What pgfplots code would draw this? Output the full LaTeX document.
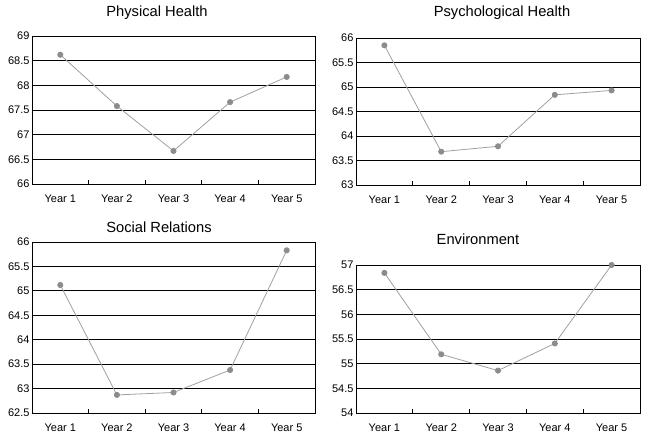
\documentclass[border=0pt]{standalone}
\usepackage{fontspec}
\setmainfont{Liberation Sans}
\usepackage{pgfplots}
\pgfplotsset{compat=1.18}
\definecolor{linegray}{RGB}{160,160,160}
\definecolor{markgray}{RGB}{140,140,140}
\pgfplotsset{
  panel/.style={
    scale only axis,
    anchor=south west,
    xmin=0.5, xmax=5.5,
    xtick={1,2,3,4,5},
    xticklabels={Year 1,Year 2,Year 3,Year 4,Year 5},
    minor xtick={1.5,2.5,3.5,4.5},
    major x tick style={draw=none},
    minor x tick style={black, line width=0.8bp},
    minor tick length=4bp,
    xtick pos=bottom,
    ytick pos=left,
    tick align=inside,
    major y tick style={draw=none},
    ymajorgrids,
    grid style={black, line width=0.9bp},
    axis line style={black, line width=0.9bp},
    /pgf/number format/assume math mode=true,
    ticklabel style={font=\fontsize{11bp}{13bp}\selectfont},
    yticklabel style={xshift=1bp},
    xticklabel style={yshift=-7bp},
  },
  ser/.style={color=linegray, line width=0.8bp, mark=*, mark size=2.6bp, mark options={draw=markgray, fill=markgray}},
}
\begin{document}
\begin{tikzpicture}
\path[use as bounding box] (0bp,0bp) rectangle (648bp,437bp);
\begin{axis}[panel, at={(32bp,253bp)}, width=283bp, height=148bp,
  ymin=66, ymax=69, ytick={66,66.5,67,67.5,68,68.5,69}]
\addplot[ser] coordinates {(1,68.62) (2,67.58) (3,66.67) (4,67.66) (5,68.17)};
\end{axis}
\begin{axis}[panel, at={(356bp,252bp)}, width=284bp, height=147bp,
  ymin=63, ymax=66, ytick={63,63.5,64,64.5,65,65.5,66}]
\addplot[ser] coordinates {(1,65.85) (2,63.68) (3,63.79) (4,64.84) (5,64.93)};
\end{axis}
\begin{axis}[panel, at={(32bp,24bp)}, width=283bp, height=171bp,
  ymin=62.5, ymax=66, ytick={62.5,63,63.5,64,64.5,65,65.5,66}]
\addplot[ser] coordinates {(1,65.12) (2,62.87) (3,62.92) (4,63.38) (5,65.83)};
\end{axis}
\begin{axis}[panel, at={(356bp,24bp)}, width=284bp, height=148bp,
  ymin=54, ymax=57, ytick={54,54.5,55,55.5,56,56.5,57}]
\addplot[ser] coordinates {(1,56.84) (2,55.19) (3,54.86) (4,55.41) (5,57.0)};
\end{axis}
\begin{scope}[every node/.style={font=\fontsize{14.7bp}{17bp}\selectfont, anchor=base, inner sep=0pt}]
\node at (157bp,420bp) {Physical Health};
\node at (502bp,420bp) {Psychological Health};
\node at (159bp,204bp) {Social Relations};
\node at (478bp,192bp) {Environment};
\end{scope}
\end{tikzpicture}
\end{document}
